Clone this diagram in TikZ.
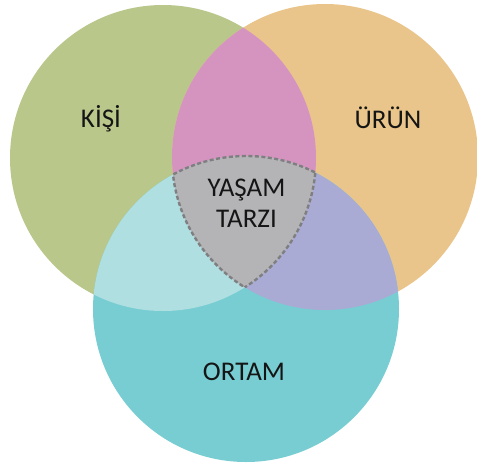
\documentclass[tikz,border=0pt]{standalone}
\usepackage{fontspec}
\setmainfont{Carlito}
\begin{document}
\definecolor{kisi}{HTML}{B9C78B}
\definecolor{urun}{HTML}{E9C58B}
\definecolor{ortam}{HTML}{77CDD2}
\definecolor{kisiurun}{HTML}{D594C0}
\definecolor{kisiortam}{HTML}{B0DFE1}
\definecolor{urunortam}{HTML}{A9ABD5}
\definecolor{yasam}{HTML}{B4B4B7}
\definecolor{edge}{HTML}{7F7F80}
\definecolor{ink}{HTML}{151515}
\begin{tikzpicture}[x=1pt,y=-1pt,
  setlabel/.style={text=ink,anchor=base,inner sep=0pt,
    font=\fontsize{27}{31}\selectfont,align=center},
  border/.style={draw=edge,line width=2.4pt,dash pattern=on 4pt off 2.5pt}]
\useasboundingbox (0,0) rectangle (477,467);
\def\rad{153pt}
\coordinate (L) at (163,158);
\coordinate (R) at (325,157);
\coordinate (B) at (246,309);
% single sets
\fill[kisi] (L) circle[radius=\rad];
\fill[urun] (R) circle[radius=\rad];
\fill[ortam] (B) circle[radius=\rad];
% pairwise overlaps
\begin{scope}
  \clip (L) circle[radius=\rad];
  \fill[kisiurun] (R) circle[radius=\rad];
  \fill[kisiortam] (B) circle[radius=\rad];
\end{scope}
\begin{scope}
  \clip (R) circle[radius=\rad];
  \fill[urunortam] (B) circle[radius=\rad];
\end{scope}
% triple overlap
\begin{scope}
  \clip (L) circle[radius=\rad];
  \clip (R) circle[radius=\rad];
  \fill[yasam] (B) circle[radius=\rad];
  \draw[border] (B) circle[radius=\rad];
\end{scope}
\begin{scope}
  \clip (L) circle[radius=\rad];
  \clip (B) circle[radius=\rad];
  \draw[border] (R) circle[radius=\rad];
\end{scope}
\begin{scope}
  \clip (R) circle[radius=\rad];
  \clip (B) circle[radius=\rad];
  \draw[border] (L) circle[radius=\rad];
\end{scope}
% labels (base anchor sits on the last line's baseline)
\node[setlabel] (tkisi) at (101,127.5) {KİŞİ};
\node[setlabel] (turun) at (388,128) {ÜRÜN};
\node[setlabel] (tyasam) at (246.5,227.3) {YAŞAM\\TARZI};
\node[setlabel] (tortam) at (244,380.5) {ORTAM};
\end{tikzpicture}
\end{document}
